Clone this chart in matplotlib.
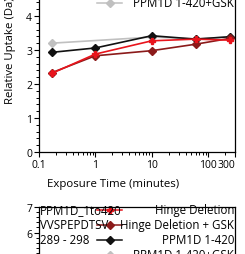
import numpy as np
import matplotlib
matplotlib.use('Agg')
import matplotlib.pyplot as plt
from matplotlib.ticker import MultipleLocator, NullFormatter

plt.rcParams['font.family'] = ['Open Sans', 'DejaVu Sans']
plt.rcParams['font.size'] = 7.8

# uptake data (Da) vs exposure time (minutes)
times = [0.167, 1, 10, 60, 240]
hinge = [2.31, 2.88, 3.27, 3.32, 3.29]
hinge_gsk = [2.33, 2.83, 2.98, 3.17, 3.34]
wt = [2.93, 3.06, 3.42, 3.32, 3.39]
wt_gsk_times = [0.167, 10, 60, 240]
wt_gsk = [3.20, 3.38, 3.33, 3.38]

names = ['Hinge Deletion', 'Hinge Deletion + GSK', 'PPM1D 1-420', 'PPM1D 1-420+GSK']
colors = ['#e8141c', '#8b1a1a', '#111111', '#c0c0c0']
markers = ['P', 'D', 'D', 'D']
peptide = ['PPM1D_1to420', 'VVSPEPDTSV', '289 - 298']
xticks = [0.1, 1, 10, 100, 300]
xticklabels = ['0.1', '1', '10', '100', '300']

W, H = 245, 255
fig = plt.figure(figsize=(W / 100, H / 100), dpi=100)

# top panel: y=0 at 153 px, 34 px per Da, ylim 0-6
ax1 = fig.add_axes([39 / W, (H - 153) / H, 196 / W, 204 / H])
# bottom panel: top at 207.7 px, 26 px per Da, ylim 0-7
ax2 = fig.add_axes([39 / W, (H - 207.7 - 182) / H, 196 / W, 182 / H])


def style(ax, ymax):
    ax.set_xscale('log')
    ax.set_xlim(0.1, 300)
    ax.set_ylim(0, ymax)
    ax.yaxis.set_major_locator(MultipleLocator(1))
    ax.yaxis.set_minor_locator(MultipleLocator(0.2))
    ax.set_xticks(xticks)
    ax.set_xticklabels(xticklabels)
    ax.xaxis.set_minor_formatter(NullFormatter())
    ax.tick_params(which='major', length=3.5, width=0.8, pad=1.5, color='black',
                   labelsize=7.5)
    ax.tick_params(which='minor', length=2, width=0.7, color='black')
    for s in ax.spines.values():
        s.set_linewidth(0.9)
        s.set_color('black')
    ax.set_ylabel('Relative Uptake (Da)', fontsize=8.2)
    for lab in ax.get_xticklabels():
        if lab.get_text() == '300':
            lab.set_ha('right')


def key(ax, hpx, first_off):
    row = 15
    for i in range(4):
        y = 1 - (first_off + i * row) / hpx
        ax.plot([(97 - 39) / 196, (122 - 39) / 196], [y, y], color=colors[i], lw=1.1,
                transform=ax.transAxes, clip_on=False)
        ax.plot([(109.5 - 39) / 196], [y], marker=markers[i], color=colors[i], ms=4,
                transform=ax.transAxes, clip_on=False)
        ax.text(0.995, y, names[i], ha='right', va='center', fontsize=8.3,
                transform=ax.transAxes)
    for i, t in enumerate(peptide):
        y = 1 - (first_off + i * row) / hpx
        ax.text(0.005, y, t, ha='left', va='center', fontsize=8.3, transform=ax.transAxes)


style(ax1, 6)
style(ax2, 7)

ax1.plot(wt_gsk_times, wt_gsk, color=colors[3], marker=markers[3], ms=4, lw=1.2)
ax1.plot(times, wt, color=colors[2], marker=markers[2], ms=4, lw=1.2)
ax1.plot(times, hinge_gsk, color=colors[1], marker=markers[1], ms=4, lw=1.2)
ax1.plot(times, hinge, color=colors[0], marker=markers[0], ms=5, lw=1.2)

ax1.set_xlabel('Exposure Time (minutes)', fontsize=8.2)
ax1.xaxis.set_label_coords((113 - 39) / 196, -26 / 204)
ax1.yaxis.set_label_coords(-22.5 / 196, 0.5)
ax2.yaxis.set_label_coords(-22.5 / 196, 0.43)

key(ax1, 204, 10)
key(ax2, 182, 3.3)

fig.savefig('out.png', dpi=100)
